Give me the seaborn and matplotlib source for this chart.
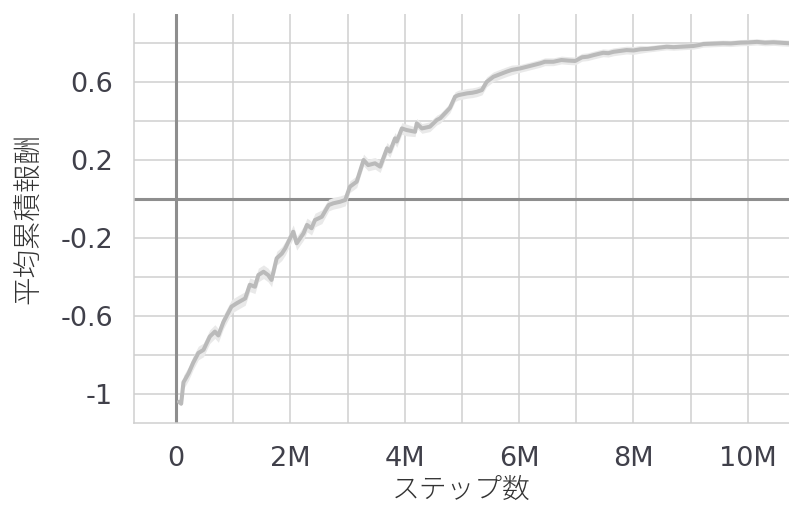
import matplotlib
matplotlib.use("Agg")
import matplotlib.pyplot as plt
import seaborn as sns
import numpy as np
from matplotlib.ticker import FixedLocator, FixedFormatter

# Training progress: environment steps (in millions) vs. mean cumulative reward
steps_m = [0.05, 0.09, 0.13, 0.22, 0.30, 0.39, 0.48, 0.59, 0.68, 0.74, 0.83, 0.97,
           1.06, 1.21, 1.29, 1.38, 1.44, 1.53, 1.61, 1.67, 1.76, 1.85, 1.91, 2.05,
           2.11, 2.23, 2.29, 2.37, 2.43, 2.55, 2.67, 2.75, 2.87, 2.96, 3.04, 3.16,
           3.28, 3.36, 3.48, 3.57, 3.69, 3.74, 3.83, 3.86, 3.95, 4.03, 4.18, 4.21,
           4.30, 4.44, 4.56, 4.62, 4.73, 4.79, 4.88, 4.94, 5.09, 5.18, 5.26, 5.35,
           5.43, 5.55, 5.70, 5.78, 5.87, 6.02, 6.13, 6.25, 6.37, 6.45, 6.60, 6.74,
           6.86, 6.98, 7.10, 7.20, 7.30, 7.47, 7.56, 7.65, 7.78, 7.88, 8.00, 8.12,
           8.25, 8.35, 8.46, 8.58, 8.70, 8.82, 8.94, 9.05, 9.15, 9.22, 9.40, 9.57,
           9.70, 9.87, 10.00, 10.16, 10.30, 10.45, 10.60, 10.72]
mean_reward = [-1.040, -1.050, -0.940, -0.894, -0.840, -0.790, -0.774, -0.706, -0.680, -0.700,
               -0.630, -0.552, -0.535, -0.510, -0.440, -0.450, -0.390, -0.373, -0.390, -0.415,
               -0.304, -0.280, -0.253, -0.168, -0.227, -0.176, -0.133, -0.150, -0.108, -0.091,
               -0.031, -0.022, -0.014, -0.005, 0.063, 0.089, 0.200, 0.174, 0.183, 0.166,
               0.260, 0.243, 0.311, 0.295, 0.362, 0.354, 0.345, 0.388, 0.362, 0.371,
               0.405, 0.414, 0.448, 0.467, 0.525, 0.533, 0.542, 0.545, 0.550, 0.559,
               0.600, 0.627, 0.644, 0.653, 0.662, 0.670, 0.678, 0.687, 0.696, 0.704,
               0.704, 0.713, 0.710, 0.708, 0.727, 0.730, 0.738, 0.750, 0.748, 0.755,
               0.760, 0.764, 0.762, 0.768, 0.770, 0.773, 0.777, 0.781, 0.779, 0.781,
               0.783, 0.785, 0.790, 0.795, 0.797, 0.799, 0.798, 0.802, 0.803, 0.806,
               0.802, 0.804, 0.801, 0.799]
# half-width of the shaded run-to-run spread
spread = [0.01, 0.01, 0.035, 0.035, 0.035, 0.035, 0.035, 0.035, 0.035, 0.035, 0.035, 0.035,
          0.035, 0.035, 0.035, 0.035, 0.035, 0.035, 0.035, 0.035, 0.035, 0.035, 0.035, 0.035,
          0.035, 0.035, 0.035, 0.035, 0.035, 0.035, 0.03, 0.03, 0.03, 0.03, 0.03, 0.03,
          0.03, 0.03, 0.03, 0.03, 0.03, 0.03, 0.03, 0.03, 0.03, 0.03, 0.025, 0.025,
          0.025, 0.025, 0.025, 0.025, 0.025, 0.025, 0.025, 0.025, 0.025, 0.025, 0.025, 0.025,
          0.025, 0.025, 0.025, 0.025, 0.025, 0.02, 0.02, 0.02, 0.02, 0.02, 0.02, 0.02,
          0.02, 0.02, 0.02, 0.02, 0.02, 0.02, 0.02, 0.02, 0.02, 0.02, 0.02, 0.02,
          0.016, 0.016, 0.016, 0.016, 0.016, 0.016, 0.016, 0.016, 0.016, 0.016, 0.016, 0.016,
          0.016, 0.016, 0.016, 0.016, 0.016, 0.016, 0.016, 0.016]

x_ticks_m = [0, 1, 2, 3, 4, 5, 6, 7, 8, 9, 10]
x_tick_labels = ["0", "", "2M", "", "4M", "", "6M", "", "8M", "", "10M"]
y_ticks = [-1.0, -0.8, -0.6, -0.4, -0.2, 0.0, 0.2, 0.4, 0.6, 0.8]
y_tick_labels = ["-1", "", "-0.6", "", "-0.2", "", "0.2", "", "0.6", ""]

x_label = "ステップ数"
y_label = "平均累積報酬"

sns.set_theme(style="white")
plt.rcParams["font.family"] = ["DejaVu Sans", "Noto Sans CJK JP"]

W, H = 789, 509
fig = plt.figure(figsize=(W / 100, H / 100), dpi=100)
ax = fig.add_axes([134 / W, 1 - 423 / H, (W - 134) / W, (423 - 14) / H])

steps = np.array(steps_m) * 1e6
vals = np.array(mean_reward)
sp = np.array(spread)

grid_c = "#cfcfcf"
ax.fill_between(steps, vals - sp, vals + sp, color="#e9e9e9", lw=0, zorder=2)
sns.lineplot(x=steps, y=vals, ax=ax, color="#bababa", lw=2.9, zorder=3)

ax.set_xlim(-0.735e6, 10.72e6)
ax.set_ylim(-1.149, 0.949)

ax.xaxis.set_major_locator(FixedLocator([t * 1e6 for t in x_ticks_m]))
ax.xaxis.set_major_formatter(FixedFormatter(x_tick_labels))
ax.yaxis.set_major_locator(FixedLocator(y_ticks))
ax.yaxis.set_major_formatter(FixedFormatter(y_tick_labels))

ax.grid(True, color=grid_c, lw=1.1, zorder=0)
ax.axhline(0, color="#8e8e8e", lw=2.2, zorder=1)
ax.axvline(0, color="#8e8e8e", lw=2.2, zorder=1)

for s in ["top", "right"]:
    ax.spines[s].set_visible(False)
for s in ["left", "bottom"]:
    ax.spines[s].set_color(grid_c)
    ax.spines[s].set_linewidth(1.1)

ax.tick_params(axis="both", which="major", direction="out", length=7.5, width=1.1,
               color=grid_c, labelsize=19.5, labelcolor="#40404a")
ax.tick_params(axis="x", pad=9)
ax.tick_params(axis="y", pad=7.5)

ax.set_xlabel(x_label, fontsize=20, color="#333333", labelpad=3, fontweight="light",
              family=["Noto Sans CJK JP", "DejaVu Sans"])
ax.set_ylabel(y_label, fontsize=20.5, color="#333333", labelpad=12, fontweight="light",
              family=["Noto Sans CJK JP", "DejaVu Sans"])

fig.savefig("out.png", dpi=100)
